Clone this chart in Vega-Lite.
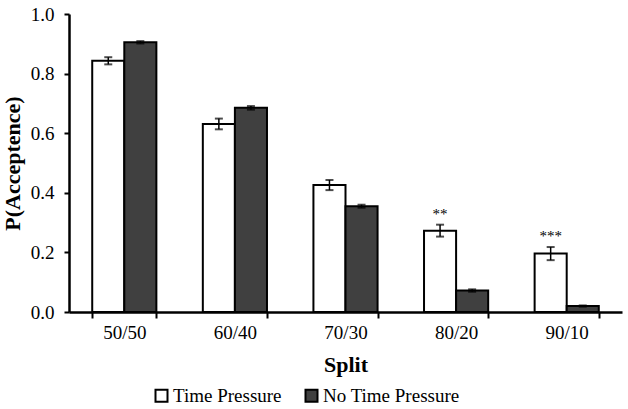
{
  "$schema": "https://vega.github.io/schema/vega-lite/v6.json",
  "autosize": {"type": "none"},
  "padding": {"left": 69, "top": 14, "right": 6, "bottom": 97},
  "width": 553,
  "height": 298,
  "background": "white",
  "data": {
    "values": [
      {"Split": "50/50", "Condition": "Time Pressure", "p": 0.843, "lo": 0.831, "hi": 0.855, "sig": ""},
      {"Split": "50/50", "Condition": "No Time Pressure", "p": 0.905, "lo": 0.901, "hi": 0.909, "sig": ""},
      {"Split": "60/40", "Condition": "Time Pressure", "p": 0.631, "lo": 0.613, "hi": 0.649, "sig": ""},
      {"Split": "60/40", "Condition": "No Time Pressure", "p": 0.685, "lo": 0.679, "hi": 0.691, "sig": ""},
      {"Split": "70/30", "Condition": "Time Pressure", "p": 0.426, "lo": 0.409, "hi": 0.443, "sig": ""},
      {"Split": "70/30", "Condition": "No Time Pressure", "p": 0.355, "lo": 0.350, "hi": 0.360, "sig": ""},
      {"Split": "80/20", "Condition": "Time Pressure", "p": 0.273, "lo": 0.253, "hi": 0.293, "sig": "**"},
      {"Split": "80/20", "Condition": "No Time Pressure", "p": 0.072, "lo": 0.068, "hi": 0.076, "sig": ""},
      {"Split": "90/10", "Condition": "Time Pressure", "p": 0.196, "lo": 0.174, "hi": 0.218, "sig": "***"},
      {"Split": "90/10", "Condition": "No Time Pressure", "p": 0.02, "lo": 0.018, "hi": 0.022, "sig": ""}
    ]
  },
  "encoding": {
    "x": {
      "field": "Split",
      "type": "nominal",
      "sort": ["50/50", "60/40", "70/30", "80/20", "90/10"],
      "scale": {"paddingInner": 0.42, "paddingOuter": 0.21},
      "title": "Split",
      "axis": {
        "labelAngle": 0,
        "tickBand": "extent",
        "labelFontSize": 19,
        "labelColor": "black",
        "labelPadding": 5,
        "tickColor": "black",
        "tickWidth": 2,
        "tickSize": 6,
        "domainColor": "black",
        "domainWidth": 2.5,
        "titleFontSize": 22,
        "titleFontWeight": "bold",
        "titleColor": "black",
        "titlePadding": 12
      }
    },
    "xOffset": {
      "field": "Condition",
      "type": "nominal",
      "sort": ["Time Pressure", "No Time Pressure"],
      "scale": {"paddingInner": 0, "paddingOuter": 0}
    }
  },
  "layer": [
    {
      "mark": {"type": "bar", "stroke": "black", "strokeWidth": 2},
      "encoding": {
        "y": {
          "field": "p",
          "type": "quantitative",
          "scale": {"domain": [0, 1]},
          "title": "P(Acceptence)",
          "axis": {
            "values": [0, 0.2, 0.4, 0.6, 0.8, 1.0],
            "format": ".1f",
            "grid": false,
            "labelFontSize": 19,
            "labelColor": "black",
            "labelPadding": 10,
            "tickColor": "black",
            "tickWidth": 2,
            "tickSize": 5,
            "domainColor": "black",
            "domainWidth": 2.5,
            "titleFontSize": 22,
            "titleFontWeight": "bold",
            "titleColor": "black",
            "titlePadding": 6
          }
        },
        "fill": {
          "field": "Condition",
          "type": "nominal",
          "sort": ["Time Pressure", "No Time Pressure"],
          "scale": {"range": ["#ffffff", "#404040"]},
          "legend": {
            "title": null,
            "orient": "none",
            "legendX": 83,
            "legendY": 372,
            "direction": "horizontal",
            "symbolType": "square",
            "symbolSize": 144,
            "symbolStrokeColor": "black",
            "symbolStrokeWidth": 2,
            "labelFontSize": 19,
            "labelColor": "black",
            "labelOffset": 2,
            "columnPadding": 19
          }
        }
      }
    },
    {
      "mark": {"type": "rule", "color": "black", "strokeWidth": 1.5},
      "encoding": {
        "y": {"field": "lo", "type": "quantitative"},
        "y2": {"field": "hi"}
      }
    },
    {
      "mark": {"type": "tick", "color": "black", "size": 8, "thickness": 2},
      "encoding": {"y": {"field": "lo", "type": "quantitative"}}
    },
    {
      "mark": {"type": "tick", "color": "black", "size": 8, "thickness": 2},
      "encoding": {"y": {"field": "hi", "type": "quantitative"}}
    },
    {
      "mark": {"type": "text", "fontSize": 15, "color": "black", "baseline": "alphabetic", "dy": -6},
      "encoding": {
        "y": {"field": "hi", "type": "quantitative"},
        "text": {"field": "sig"}
      }
    }
  ],
  "config": {
    "view": {"stroke": null},
    "font": "Liberation Serif",
    "axis": {"labelFont": "Liberation Serif", "titleFont": "Liberation Serif"},
    "legend": {"labelFont": "Liberation Serif"},
    "text": {"font": "Liberation Serif"}
  }
}
